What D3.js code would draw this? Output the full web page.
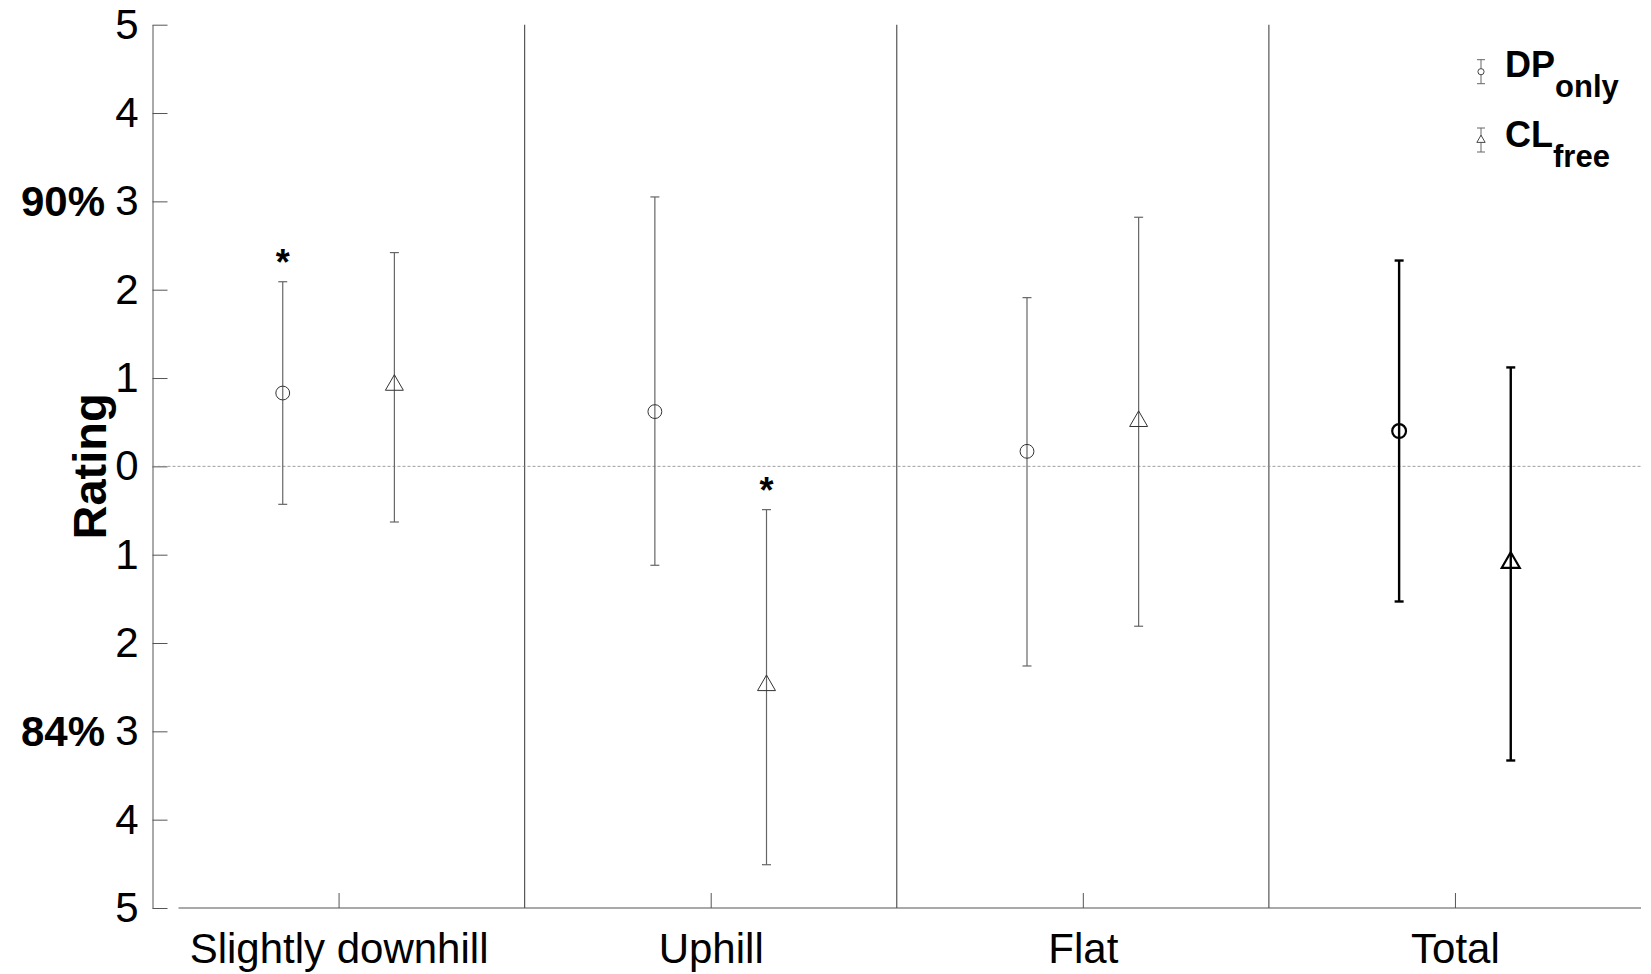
<!DOCTYPE html>
<html>
<head>
<meta charset="utf-8">
<script src="https://cdn.jsdelivr.net/npm/d3@7"></script>
<style>
  body { margin: 0; background: #fff; }
  svg { font-family: "Liberation Sans", Arial, sans-serif; }
</style>
</head>
<body>
<script>
// Data
var categories = ["Slightly downhill", "Uphill", "Flat", "Total"];
var seriesNames = ["DP", "CL"];
var seriesSubs = ["only", "free"];

// mean, upper and lower ends of the error bars (rating units)
var dpMean  = [0.83, 0.62, 0.17, 0.40];
var dpUpper = [2.09, 3.05, 1.91, 2.33];
var dpLower = [-0.43, -1.12, -2.26, -1.53];

var clMean  = [0.92, -2.48, 0.51, -1.09];
var clUpper = [2.42, -0.49, 2.82, 1.12];
var clLower = [-0.63, -4.51, -1.81, -3.33];

// significance stars: [category index, series index]
var stars = [[0, 0], [1, 1]];

var yTicks = [5, 4, 3, 2, 1, 0, -1, -2, -3, -4, -5];
var sideLabels = [{ v: 3, t: "90%" }, { v: -3, t: "84%" }];

var width = 1651, height = 974;

var svg = d3.select("body").append("svg")
    .attr("width", width)
    .attr("height", height);

var x = d3.scaleLinear().domain([0.5, 4.5]).range([152.5, 1641]);
var y = d3.scaleLinear().domain([-5, 5]).range([908, 24.7]);
var offset = [-0.15, 0.15];
var axisColor = "#555";

// y axis
var yAxis = svg.append("g")
    .attr("transform", "translate(" + x.range()[0] + ",0)")
    .call(d3.axisLeft(y)
        .tickValues(yTicks)
        .tickSizeInner(-15)
        .tickSizeOuter(0)
        .tickPadding(14)
        .tickFormat(function(d) { return Math.abs(d); }));
yAxis.selectAll("path, line").attr("stroke", axisColor);
yAxis.selectAll("text")
    .attr("font-size", 42)
    .attr("fill", "#000")
    .attr("font-family", "Liberation Sans, Arial, sans-serif");

svg.selectAll(".side")
    .data(sideLabels)
    .enter().append("text")
    .attr("x", 105)
    .attr("y", function(d) { return y(d.v); })
    .attr("dy", "0.36em")
    .attr("text-anchor", "end")
    .attr("font-size", 42)
    .attr("font-weight", "bold")
    .text(function(d) { return d.t; });

svg.append("text")
    .attr("transform", "translate(106," + y(0) + ") rotate(-90)")
    .attr("text-anchor", "middle")
    .attr("font-size", 47)
    .attr("font-weight", "bold")
    .text("Rating");

// x axis
var xAxis = svg.append("g")
    .attr("transform", "translate(0," + y(-5) + ")")
    .call(d3.axisBottom(x)
        .tickValues([1, 2, 3, 4])
        .tickSizeInner(-15)
        .tickSizeOuter(0)
        .tickPadding(25)
        .tickFormat(function(d) { return categories[d - 1]; }));
xAxis.select(".domain").remove();
xAxis.selectAll("line").attr("stroke", axisColor);
xAxis.selectAll("text")
    .attr("font-size", 42)
    .attr("fill", "#000")
    .attr("font-family", "Liberation Sans, Arial, sans-serif");
svg.append("line")
    .attr("x1", x.range()[0] + 26)
    .attr("x2", x.range()[1])
    .attr("y1", y(-5))
    .attr("y2", y(-5))
    .attr("stroke", axisColor)
    .attr("stroke-width", 1.2);

// separators between categories
svg.selectAll(".sep")
    .data([1.5, 2.5, 3.5])
    .enter().append("line")
    .attr("x1", function(d) { return x(d); })
    .attr("x2", function(d) { return x(d); })
    .attr("y1", y(5))
    .attr("y2", y(-5))
    .attr("stroke", axisColor)
    .attr("stroke-width", 1.2);

// zero line
svg.append("line")
    .attr("x1", x.range()[0])
    .attr("x2", x.range()[1])
    .attr("y1", y(0))
    .attr("y2", y(0))
    .attr("stroke", "#888")
    .attr("stroke-width", 0.8)
    .attr("stroke-dasharray", "3,2");

// build points
var points = [];
categories.forEach(function(c, i) {
    points.push({ cat: i, s: 0, m: dpMean[i], hi: dpUpper[i], lo: dpLower[i] });
    points.push({ cat: i, s: 1, m: clMean[i], hi: clUpper[i], lo: clLower[i] });
});

function px(d) { return x(d.cat + 1 + offset[d.s]); }
function col(d) { return d.cat === 3 ? "#000" : "#666"; }
function sw(d) { return d.cat === 3 ? 2.4 : 1.2; }

var g = svg.selectAll(".pt")
    .data(points)
    .enter().append("g");

g.append("line")
    .attr("x1", px).attr("x2", px)
    .attr("y1", function(d) { return y(d.hi); })
    .attr("y2", function(d) { return y(d.lo); })
    .attr("stroke", col)
    .attr("stroke-width", sw);

[["hi"], ["lo"]].forEach(function(k) {
    g.append("line")
        .attr("x1", function(d) { return px(d) - 4.5; })
        .attr("x2", function(d) { return px(d) + 4.5; })
        .attr("y1", function(d) { return y(d[k[0]]); })
        .attr("y2", function(d) { return y(d[k[0]]); })
        .attr("stroke", col)
        .attr("stroke-width", sw);
});

var circleSym = d3.symbol().type(d3.symbolCircle).size(150);
var triSym = d3.symbol().type(d3.symbolTriangle).size(140);

g.append("path")
    .attr("d", function(d) { return d.s === 0 ? circleSym() : triSym(); })
    .attr("transform", function(d) { return "translate(" + px(d) + "," + y(d.m) + ")"; })
    .attr("fill", "#fff")
    .attr("fill-opacity", 0)
    .attr("stroke", function(d) { return d.cat === 3 ? "#000" : "#333"; })
    .attr("stroke-width", function(d) { return d.cat === 3 ? 2.2 : 1; });

// stars
svg.selectAll(".star")
    .data(stars)
    .enter().append("text")
    .attr("x", function(d) { return x(d[0] + 1 + offset[d[1]]); })
    .attr("y", function(d) {
        var hi = d[1] === 0 ? dpUpper[d[0]] : clUpper[d[0]];
        return y(hi) - 7;
    })
    .attr("text-anchor", "middle")
    .attr("font-size", 36)
    .attr("font-weight", "bold")
    .text("*");

// legend
var legY = [71.7, 140];
var leg = svg.selectAll(".leg")
    .data(seriesNames)
    .enter().append("g")
    .attr("transform", function(d, i) { return "translate(1481," + legY[i] + ")"; });

leg.append("line")
    .attr("y1", -12).attr("y2", 12)
    .attr("stroke", "#666").attr("stroke-width", 1);
[-12, 12].forEach(function(v) {
    leg.append("line")
        .attr("x1", -4).attr("x2", 4)
        .attr("y1", v).attr("y2", v)
        .attr("stroke", "#666").attr("stroke-width", 1);
});
var smallCircle = d3.symbol().type(d3.symbolCircle).size(30);
var smallTri = d3.symbol().type(d3.symbolTriangle).size(30);
leg.append("path")
    .attr("d", function(d, i) { return i === 0 ? smallCircle() : smallTri(); })
    .attr("fill", "#fff")
    .attr("stroke", "#333")
    .attr("stroke-width", 0.9);

var legText = leg.append("text")
    .attr("x", 24)
    .attr("y", function(d, i) { return i === 0 ? 5 : 7.3; })
    .attr("font-weight", "bold");
legText.append("tspan")
    .attr("font-size", 36)
    .text(function(d) { return d; });
legText.append("tspan")
    .attr("font-size", 31)
    .attr("dy", 20)
    .text(function(d, i) { return seriesSubs[i]; });
</script>
</body>
</html>
